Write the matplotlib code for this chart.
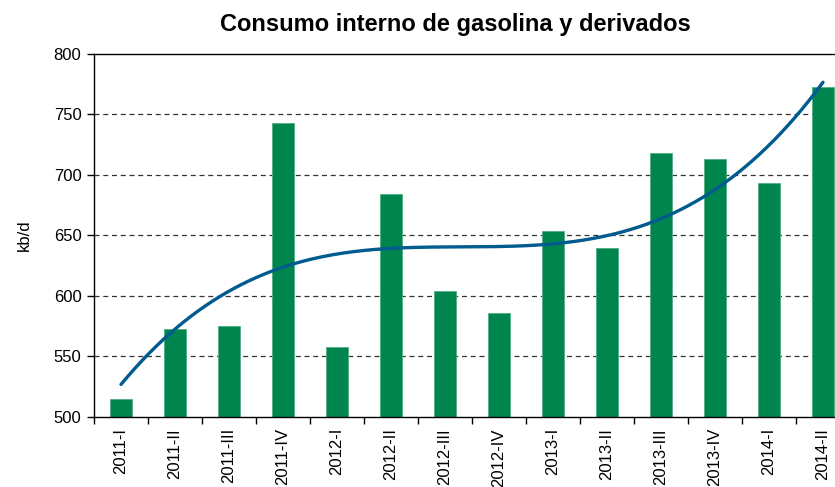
import numpy as np
import matplotlib
matplotlib.use("Agg")
import matplotlib.pyplot as plt

plt.rcParams['font.family'] = ['Liberation Sans', 'DejaVu Sans']

categories = ["2011-I", "2011-II", "2011-III", "2011-IV",
              "2012-I", "2012-II", "2012-III", "2012-IV",
              "2013-I", "2013-II", "2013-III", "2013-IV",
              "2014-I", "2014-II"]
values = [515, 573, 575, 743, 558, 684, 604, 586, 654, 640, 718, 713, 693, 773]

title = "Consumo interno de gasolina y derivados"
ylabel = "kb/d"

fig = plt.figure(figsize=(8.35, 4.87), dpi=100)
ax = fig.add_axes([94/835, (487-417)/487, 756/835, 363/487])

x = np.arange(len(categories))
ax.bar(x, values, width=0.39, color="#00854F", edgecolor="#4fae80", linewidth=0.6, zorder=2)

# polynomial (cubic) trend line, as in the source spreadsheet
coef = np.polyfit(x, values, 3)
xs = np.linspace(0, len(categories) - 1, 200)
ax.plot(xs, np.polyval(coef, xs), color="#005B8E", linewidth=2.4, zorder=3,
        solid_capstyle="round")

ax.set_ylim(500, 800)
ax.set_yticks(np.arange(500, 801, 50))
ax.set_xlim(-0.5, len(categories) - 0.5)
ax.set_xticks(x)
ax.set_xticklabels(categories, rotation=90, fontsize=12)
ax.tick_params(axis='x', length=0, pad=8)
ax.set_xticks(np.arange(-0.5, len(categories), 1), minor=True)
ax.tick_params(axis='x', which='minor', length=5, width=1, direction='out')
ax.tick_params(axis='y', labelsize=12, length=5, width=1, direction='out', pad=4)

for yv in range(550, 800, 50):
    ax.axhline(yv, color="#333333", linestyle=(0, (4, 3)), linewidth=0.9, zorder=1)

for s in ['left', 'bottom', 'top']:
    ax.spines[s].set_linewidth(1.0)
    ax.spines[s].set_color('black')
ax.spines['right'].set_visible(False)

ax.set_ylabel(ylabel, fontsize=12, labelpad=16)
fig.text(455/835, 1 - 25/487, title, ha='center', va='center', fontsize=17, fontweight='bold')

fig.savefig("out.png", dpi=100)
